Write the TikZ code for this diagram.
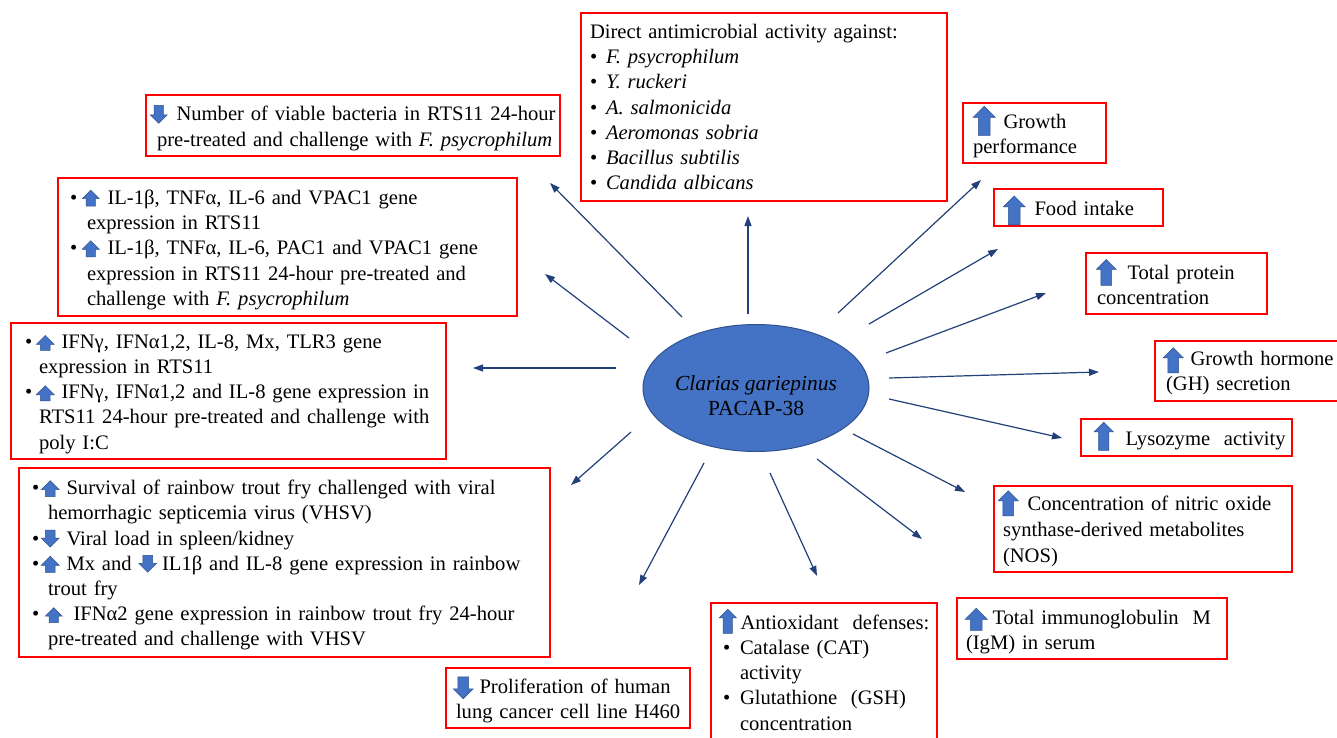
\documentclass[tikz,border=0pt]{standalone}
\usepackage{fontspec}
\setmainfont{Liberation Serif}
\usetikzlibrary{arrows.meta,shapes.geometric}
\definecolor{arrfill}{HTML}{4472C4}
\definecolor{arredge}{HTML}{2F528F}
\definecolor{conncol}{HTML}{22407A}
\definecolor{ellfill}{HTML}{4472C4}
% block arrows used inside the texts: [depth below baseline]{width}{height}
\newcommand{\UpA}[3][2]{\smash{\tikz[baseline=#1pt,x=1pt,y=1pt]{\path[fill=arrfill,draw=arredge,line width=0.5pt] ({0.23*#2},0) -- ({0.77*#2},0) -- ({0.77*#2},{#3-0.5*#2}) -- (#2,{#3-0.5*#2}) -- ({0.5*#2},#3) -- (0,{#3-0.5*#2}) -- ({0.23*#2},{#3-0.5*#2}) -- cycle;}}}
\newcommand{\DnA}[3][2]{\smash{\tikz[baseline=#1pt,x=1pt,y=1pt]{\path[fill=arrfill,draw=arredge,line width=0.5pt] ({0.23*#2},#3) -- ({0.77*#2},#3) -- ({0.77*#2},{0.5*#2}) -- (#2,{0.5*#2}) -- ({0.5*#2},0) -- (0,{0.5*#2}) -- ({0.23*#2},{0.5*#2}) -- cycle;}}}
\newcommand{\bul}[1]{\makebox[#1][l]{\textbullet}}
\newcommand{\TL}[1]{\mbox{#1}}
\tikzset{
  box/.style={draw=red, line width=1.1pt, anchor=north west, align=left, inner ysep=0pt, outer sep=0pt},
  fs/.style={font=\fontsize{20.6}{#1}\selectfont},
  lower/.style={execute at begin node={\rule{0pt}{#1}}},
  conn/.style={draw=conncol, line width=1.2pt, -{Triangle[length=10pt,width=7pt]}},
}
\begin{document}
\begin{tikzpicture}[x=1pt,y=-1pt]
\path[fill=white,use as bounding box] (0,0) rectangle (1337,738);

% central ellipse
\node[ellipse, fill=ellfill, draw=arredge, line width=1pt, minimum width=226pt, minimum height=127pt, inner sep=0pt] (pac) at (756,388) {};
\node[align=center, font=\fontsize{21.5}{25}\selectfont, inner sep=0pt] (pactext) at (756,396) {\textit{Clarias gariepinus}\\PACAP-38};

% A: direct antimicrobial activity
\node[box, fs=25.2, inner xsep=9pt, text width=348pt, minimum height=188pt] (bA) at (581,13) {%
\TL{Direct antimicrobial activity against:}\\
\TL{\bul{16pt}\textit{F. psycrophilum}}\\
\TL{\bul{16pt}\textit{Y. ruckeri}}\\
\TL{\bul{16pt}\textit{A. salmonicida}}\\
\TL{\bul{16pt}\textit{Aeromonas sobria}}\\
\TL{\bul{16pt}\textit{Bacillus subtilis}}\\
\TL{\bul{16pt}\textit{Candida albicans}}};

% B: viable bacteria
\node[box, fs=26, lower=20pt, inner xsep=4pt, text width=406pt, minimum height=61pt] (bB) at (146,95) {%
\TL{\DnA[3]{17}{18}\hspace{9pt}Number of viable bacteria in RTS11 24-hour}\\
\TL{\hspace*{7pt}pre-treated and challenge with \textit{F. psycrophilum}}};

% C: IL-1b box
\node[box, fs=25.3, lower=20pt, inner xsep=12pt, text width=435pt, minimum height=138pt] (bC) at (58,178) {%
\TL{\bul{12pt}\UpA{17}{16}\hspace{8pt}IL-1β, TNFα, IL-6 and VPAC1 gene}\\
\TL{\hspace*{17pt}expression in RTS11}\\
\TL{\bul{12pt}\UpA{17}{16}\hspace{8pt}IL-1β, TNFα, IL-6, PAC1 and VPAC1 gene}\\
\TL{\hspace*{17pt}expression in RTS11 24-hour pre-treated and}\\
\TL{\hspace*{17pt}challenge with \textit{F. psycrophilum}}};

% D: IFN box
\node[box, fs=25.2, lower=20pt, inner xsep=14pt, text width=407pt, minimum height=136pt] (bD) at (11,323) {%
\TL{\bul{11pt}\UpA{18}{15}\hspace{7pt}IFNγ, IFNα1,2, IL-8, Mx, TLR3 gene}\\
\TL{\hspace*{14pt}expression in RTS11}\\
\TL{\bul{11pt}\UpA{18}{15}\hspace{7pt}IFNγ, IFNα1,2 and IL-8 gene expression in}\\
\TL{\hspace*{14pt}RTS11 24-hour pre-treated and challenge with}\\
\TL{\hspace*{14pt}poly I:C}};

% E: VHSV box
\node[box, fs=25.2, lower=20pt, inner xsep=13pt, text width=505pt, minimum height=189pt] (bE) at (19,468) {%
\TL{\bul{9pt}\UpA{18}{16}\hspace{7pt}Survival of rainbow trout fry challenged with viral}\\
\TL{\hspace*{16pt}hemorrhagic septicemia virus (VHSV)}\\
\TL{\bul{9pt}\DnA{18}{17}\hspace{7pt}Viral load in spleen/kidney}\\
\TL{\bul{9pt}\UpA{18}{16}\hspace{7pt}Mx and \DnA{18}{17}\hspace{5pt}IL1β and IL-8 gene expression in rainbow}\\
\TL{\hspace*{16pt}trout fry}\\
\TL{\bul{13pt}\UpA{17}{15}\hspace{11pt}IFNα2 gene expression in rainbow trout fry 24-hour}\\
\TL{\hspace*{16pt}pre-treated and challenge with VHSV}};

% F: growth performance
\node[box, fs=25, lower=20pt, inner xsep=10pt, text width=123pt, minimum height=60pt] (bF) at (963,103) {%
\TL{\UpA[7]{22}{29}\hspace{8pt}Growth}\\
\TL{performance}};

% G: food intake
\node[box, fs=25, lower=17pt, inner xsep=9pt, text width=151pt, minimum height=37pt] (bG) at (994,189) {%
\TL{\UpA[9]{22}{29}\hspace{9pt}Food intake}};

% H: total protein
\node[box, fs=25, lower=17pt, inner xsep=10pt, text width=161pt, minimum height=61pt] (bH) at (1086,253) {%
\TL{\UpA[6]{20}{26}\hspace{11pt}Total protein}\\
\TL{\hspace*{1pt}concentration}};

% I: growth hormone
\node[box, fs=25, lower=19pt, inner xsep=8pt, text width=169pt, minimum height=60pt] (bI) at (1155,341) {%
\TL{\UpA[7]{20}{25}\hspace{7pt}Growth hormone}\\
\TL{\hspace*{3pt}(GH) secretion}};

% J: lysozyme
\node[box, fs=25, lower=20pt, inner xsep=13pt, text width=185pt, minimum height=37pt] (bJ) at (1081,419) {%
\TL{\UpA[5]{19}{28}\hspace{12pt}Lysozyme\ \ activity}};

% K: NOS
\node[box, fs=26, lower=20pt, inner xsep=4pt, text width=290pt, minimum height=86pt] (bK) at (994,486) {%
\TL{\UpA[5]{20}{25}\hspace{9pt}Concentration of nitric oxide}\\
\TL{\hspace*{5pt}synthase-derived metabolites}\\
\TL{\hspace*{5pt}(NOS)}};

% L: IgM
\node[box, fs=25, lower=21pt, inner xsep=8pt, text width=254pt, minimum height=61pt] (bL) at (957,598) {%
\TL{\UpA[6]{22}{22}\hspace{5pt}Total immunoglobulin\ \ M}\\
\TL{\hspace*{1pt}(IgM)\ in serum}};

% M: proliferation
\node[box, fs=25, lower=21pt, inner xsep=7pt, text width=230pt, minimum height=60pt] (bM) at (446,668) {%
\TL{\DnA[5]{20}{22}\hspace{6pt}Proliferation of human}\\
\TL{\hspace*{3pt}lung cancer cell line H460}};

% N: antioxidant
\node[box, fs=25.2, inner xsep=8pt, text width=210pt, minimum height=139pt] (bN) at (711,603) {%
\TL{\UpA[4]{17}{24}\hspace{4pt}Antioxidant\ \ defenses:}\\
\TL{\hspace*{4pt}\bul{17pt}Catalase (CAT)}\\
\TL{\hspace*{21pt}activity}\\
\TL{\hspace*{4pt}\bul{17pt}Glutathione\ \ (GSH)}\\
\TL{\hspace*{21pt}concentration}};

% connector end points
\coordinate (s1) at (682,317);  \coordinate (e1) at (550,183);
\coordinate (s2) at (629,338);  \coordinate (e2) at (545,274);
\coordinate (s3) at (616,368);  \coordinate (e3) at (473,368);
\coordinate (s4) at (748,314);  \coordinate (e4) at (748,216);
\coordinate (s5) at (838,313);  \coordinate (e5) at (981,180);
\coordinate (s6) at (869,324);  \coordinate (e6) at (998,249);
\coordinate (s7) at (886,353);  \coordinate (e7) at (1046,293);
\coordinate (s8) at (889,378);  \coordinate (e8) at (1099,372);
\coordinate (s9) at (889,399);  \coordinate (e9) at (1062,438);
\coordinate (s10) at (853,434); \coordinate (e10) at (965,492);
\coordinate (s11) at (817,459); \coordinate (e11) at (922,539);
\coordinate (s12) at (770,473); \coordinate (e12) at (817,576);
\coordinate (s13) at (704,463); \coordinate (e13) at (639,585);
\coordinate (s14) at (631,432); \coordinate (e14) at (571,485);

\foreach \i in {1,...,14} { \draw[conn] (s\i) -- (e\i); }
\end{tikzpicture}
\end{document}
